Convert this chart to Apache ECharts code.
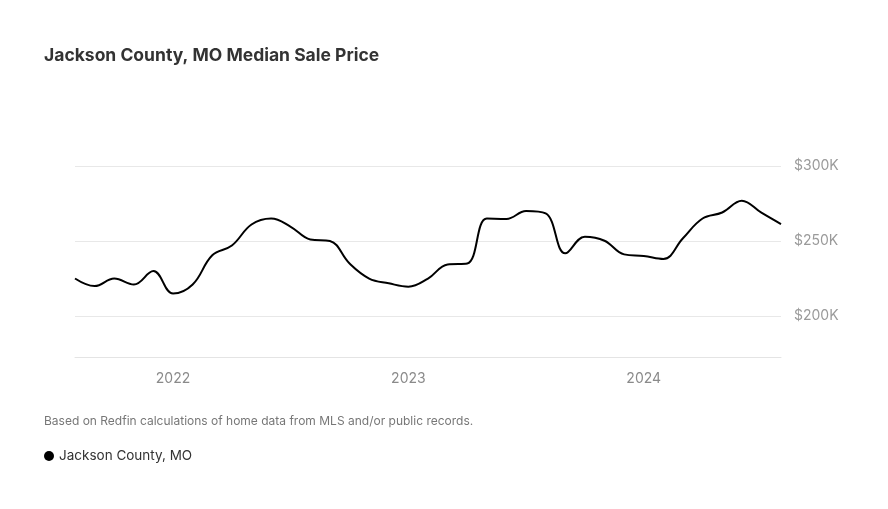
<!DOCTYPE html>
<html>
<head>
<meta charset="utf-8">
<script src="https://cdn.jsdelivr.net/npm/echarts@6/dist/echarts.min.js"></script>
<style>
html,body{margin:0;padding:0;background:#fff;}
#chart{width:888px;height:509px;}
</style>
</head>
<body>
<div id="chart"></div>
<script>
const months = [
  '2021-08','2021-09','2021-10','2021-11','2021-12',
  '2022-01','2022-02','2022-03','2022-04','2022-05','2022-06','2022-07','2022-08','2022-09','2022-10','2022-11','2022-12',
  '2023-01','2023-02','2023-03','2023-04','2023-05','2023-06','2023-07','2023-08','2023-09','2023-10','2023-11','2023-12',
  '2024-01','2024-02','2024-03','2024-04','2024-05','2024-06','2024-07','2024-08'
];
const prices = [
  225, 220, 225, 221, 230,
  215, 221, 240.5, 247, 261, 265, 259.5, 251, 250, 235, 225, 221.8,
  219.6, 225, 234.4, 235, 265, 264.7, 270, 268.4, 241.8, 252.9, 250.2, 241.1,
  240, 238, 251.8, 265, 269, 276.9, 268.9, 261.3
];
const yTicks = [200, 250, 300];
const seriesName = 'Jackson County, MO';
const titleText = 'Jackson County, MO Median Sale Price';
const noteText = 'Based on Redfin calculations of home data from MLS and/or public records.';

const chart = echarts.init(document.getElementById('chart'));
const font = 'Inter, "Libre Franklin", Lato, sans-serif';
chart.setOption({
  animation: false,
  backgroundColor: '#fff',
  title: {
    text: titleText,
    left: 44, top: 47, padding: 0,
    textStyle: {fontFamily: font, fontSize: 17.5, fontWeight: 'bold', color: '#333'}
  },
  legend: {
    show: true,
    left: 39, top: 444,
    icon: 'circle', itemWidth: 10, itemHeight: 10, itemGap: 7,
    textStyle: {fontFamily: font, fontSize: 13.5, color: '#333'},
    data: [seriesName]
  },
  graphic: [{
    type: 'text', left: 44, top: 415,
    style: {text: noteText, fontFamily: font, fontSize: 12, fill: '#777'}
  }],
  grid: {left: 75, right: 107, top: 166, bottom: 152, containLabel: false},
  xAxis: {
    type: 'category',
    data: months,
    boundaryGap: false,
    axisLine: {show: true, lineStyle: {color: '#e4e4e4', width: 1}},
    axisTick: {show: false},
    splitLine: {show: false},
    axisLabel: {
      interval: (i, v) => v.endsWith('-01'),
      formatter: v => v.slice(0, 4),
      margin: 15,
      fontFamily: font, fontSize: 14, color: '#8a8a8a'
    }
  },
  yAxis: {
    type: 'value',
    position: 'right',
    min: 172.7, max: 300,
    axisLine: {show: false},
    axisTick: {show: false, customValues: yTicks},
    splitLine: {show: true, lineStyle: {color: '#e8e8e8', width: 1}},
    axisLabel: {
      customValues: yTicks,
      formatter: v => '$' + v + 'K',
      margin: 13,
      lineHeight: 20,
      padding: [4, 0, 0, 0],
      fontFamily: font, fontSize: 14, color: '#9a9a9a'
    }
  },
  series: [{
    name: seriesName,
    type: 'line',
    data: prices,
    smooth: 0.4,
    symbol: 'none',
    lineStyle: {color: '#000', width: 2},
    itemStyle: {color: '#000'}
  }]
});
</script>
</body>
</html>
